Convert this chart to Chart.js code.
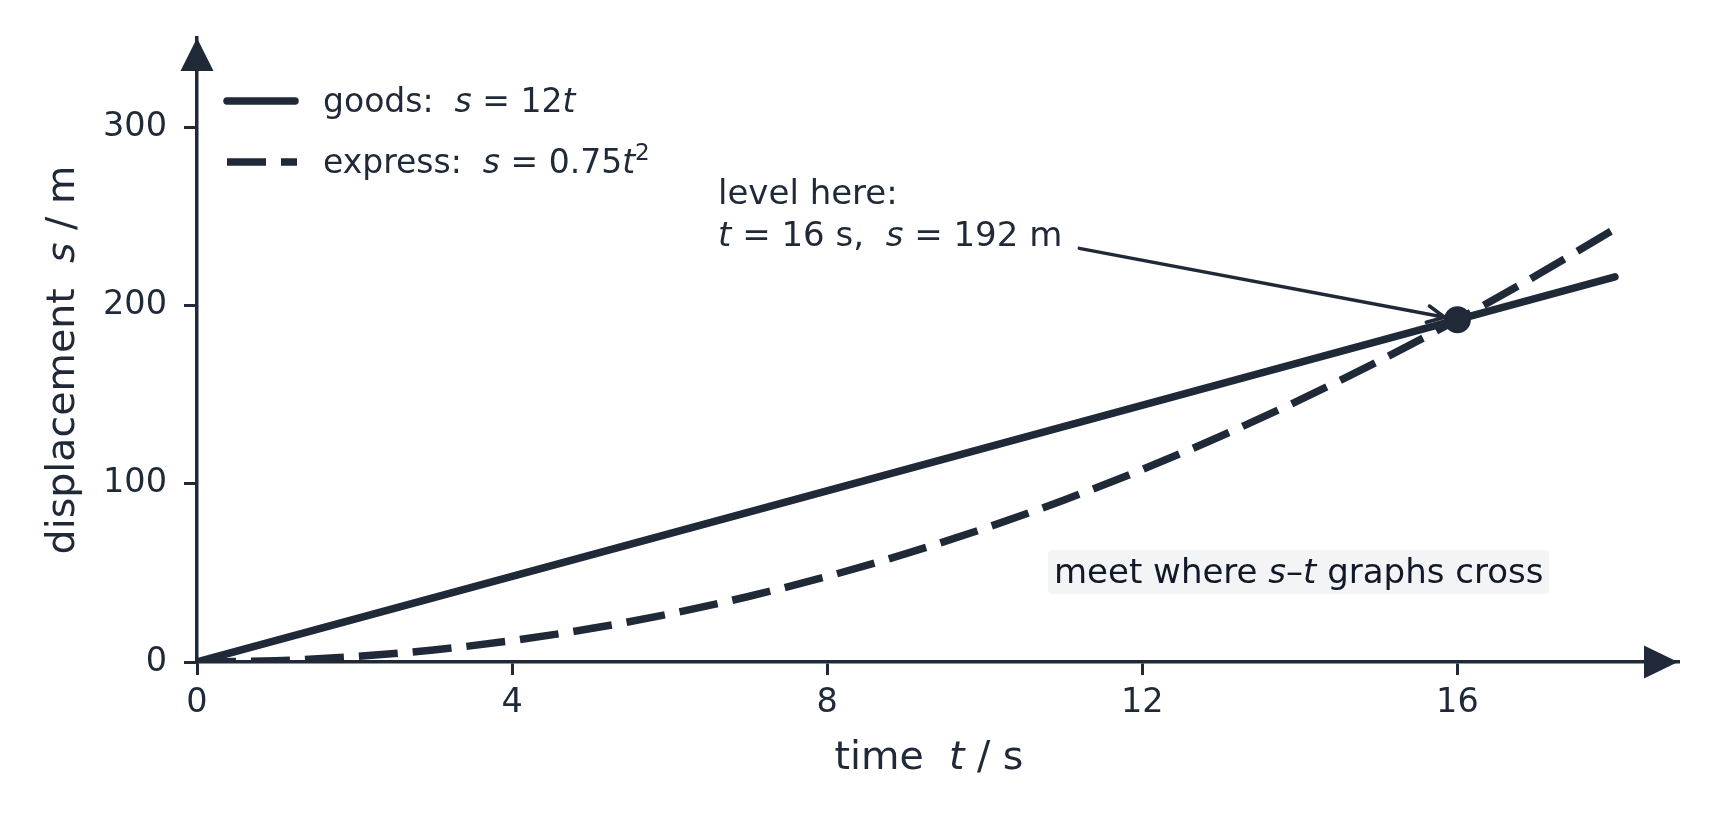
<!DOCTYPE html>
<html>
<head>
<meta charset="utf-8">
<title>s–t graphs: goods and express</title>
<script src="https://cdn.jsdelivr.net/npm/chart.js@4.4.1/dist/chart.umd.min.js"></script>
<style>
  html, body { margin: 0; padding: 0; background: #fff; }
  #wrap { width: 1715px; height: 820px; }
</style>
</head>
<body>
<div id="wrap"><canvas id="chart" width="1715" height="820"></canvas></div>
<script>
const INK = '#1f2937';
const FONT = '"DejaVu Sans", sans-serif';

// goods train: s = 12t
const goodsT = [0, 18];
const goodsS = [0, 216];

// express train: s = 0.75t^2, read every second
const expressT = [0, 1, 2, 3, 4, 5, 6, 7, 8, 9, 10, 11, 12, 13, 14, 15, 16, 17, 18];
const expressS = [0, 0.75, 3, 6.75, 12, 18.75, 27, 36.75, 48, 60.75, 75, 90.75, 108, 126.75, 147, 168.75, 192, 216.75, 243];

// where they are level
const meetT = [16];
const meetS = [192];

const xTicks = [0, 4, 8, 12, 16];
const yTicks = [0, 100, 200, 300];

function pairs(xs, ys) {
  return xs.map((x, i) => ({ x: x, y: ys[i] }));
}

// draws a run of text pieces, some italic, some raised
function richWidth(ctx, parts, size) {
  let w = 0;
  parts.forEach(p => {
    const s = p.sup ? size * 0.7 : size;
    ctx.font = (p.i ? 'italic ' : '') + s + 'px ' + FONT;
    w += ctx.measureText(p.t).width;
  });
  return w;
}

function drawRich(ctx, x, y, parts, size, color) {
  ctx.fillStyle = color || INK;
  ctx.textBaseline = 'alphabetic';
  ctx.textAlign = 'left';
  parts.forEach(p => {
    const s = p.sup ? size * 0.7 : size;
    ctx.font = (p.i ? 'italic ' : '') + s + 'px ' + FONT;
    ctx.fillText(p.t, x, p.sup ? y - size * 0.38 : y);
    x += ctx.measureText(p.t).width;
  });
  return x;
}

const legendParts = [
  [{ t: 'goods:  ' }, { t: 's', i: true }, { t: ' = 12' }, { t: 't', i: true }],
  [{ t: 'express:  ' }, { t: 's', i: true }, { t: ' = 0.75' }, { t: 't', i: true }, { t: '2', sup: true }]
];

const decor = {
  id: 'decor',
  afterDraw(chart) {
    const ctx = chart.ctx;
    const area = chart.chartArea;
    const xs = chart.scales.x;
    const ys = chart.scales.y;
    ctx.save();

    // axis arrow heads
    ctx.fillStyle = INK;
    ctx.beginPath();
    ctx.moveTo(area.right, area.bottom);
    ctx.lineTo(area.right - 34, area.bottom - 16.5);
    ctx.lineTo(area.right - 34, area.bottom + 16.5);
    ctx.closePath();
    ctx.fill();
    ctx.beginPath();
    ctx.moveTo(area.left, area.top);
    ctx.lineTo(area.left - 16.5, area.top + 33);
    ctx.lineTo(area.left + 16.5, area.top + 33);
    ctx.closePath();
    ctx.fill();

    // axis titles
    const xt = [{ t: 'time  ' }, { t: 't', i: true }, { t: ' / s' }];
    const xw = richWidth(ctx, xt, 39.5);
    drawRich(ctx, 929 - xw / 2, 769, xt, 39.5);

    const yt = [{ t: 'displacement  ' }, { t: 's', i: true }, { t: ' / m' }];
    const yw = richWidth(ctx, yt, 39.5);
    ctx.save();
    ctx.translate(74, 360);
    ctx.rotate(-Math.PI / 2);
    drawRich(ctx, -yw / 2, 0, yt, 39.5);
    ctx.restore();

    // legend
    chart.data.datasets.slice(0, 2).forEach((ds, i) => {
      const y = 101 + i * 61;
      ctx.strokeStyle = ds.borderColor;
      ctx.lineWidth = ds.borderWidth;
      ctx.lineCap = ds.borderCapStyle || 'butt';
      ctx.setLineDash(ds.borderDash || []);
      ctx.beginPath();
      ctx.moveTo(227, y);
      ctx.lineTo(i === 0 ? 295 : 297, y);
      ctx.stroke();
      ctx.setLineDash([]);
      drawRich(ctx, 323, y + 11, legendParts[i], 33);
    });

    // annotation for the meeting point
    drawRich(ctx, 718, 204, [{ t: 'level here:' }], 34);
    drawRich(ctx, 718, 246, [{ t: 't', i: true }, { t: ' = 16 s,  ' }, { t: 's', i: true }, { t: ' = 192 m' }], 34);

    const x0 = xs.getPixelForValue(11.2);
    const y0 = ys.getPixelForValue(232);
    const px = xs.getPixelForValue(meetT[0]);
    const py = ys.getPixelForValue(meetS[0]);
    const ang = Math.atan2(py - y0, px - x0);
    const tx = px - Math.cos(ang) * 13;
    const ty = py - Math.sin(ang) * 13;
    ctx.strokeStyle = INK;
    ctx.lineWidth = 3.5;
    ctx.lineCap = 'round';
    ctx.beginPath();
    ctx.moveTo(x0, y0);
    ctx.lineTo(tx, ty);
    ctx.moveTo(tx - Math.cos(ang - 0.45) * 19, ty - Math.sin(ang - 0.45) * 19);
    ctx.lineTo(tx, ty);
    ctx.lineTo(tx - Math.cos(ang + 0.45) * 19, ty - Math.sin(ang + 0.45) * 19);
    ctx.stroke();

    // note box
    const note = [{ t: 'meet where ' }, { t: 's', i: true }, { t: '–' }, { t: 't', i: true }, { t: ' graphs cross' }];
    const nw = richWidth(ctx, note, 34);
    ctx.fillStyle = '#f3f4f6';
    ctx.beginPath();
    ctx.roundRect(1048, 550, nw + 12, 44, 4);
    ctx.fill();
    drawRich(ctx, 1054, 583, note, 34, '#111827');

    ctx.restore();
  }
};

const axisCommon = {
  type: 'linear',
  grid: { drawOnChartArea: false, drawTicks: true, tickLength: 13, color: INK, lineWidth: 3 },
  border: { display: true, color: INK, width: 3.5 }
};

new Chart(document.getElementById('chart'), {
  type: 'line',
  data: {
    datasets: [
      {
        label: 'goods: s = 12t',
        data: pairs(goodsT, goodsS),
        borderColor: INK,
        borderWidth: 7.5,
        borderCapStyle: 'round',
        pointRadius: 0,
        fill: false
      },
      {
        label: 'express: s = 0.75t²',
        data: pairs(expressT, expressS),
        borderColor: INK,
        borderWidth: 7.5,
        borderDash: [39, 15],
        borderCapStyle: 'butt',
        cubicInterpolationMode: 'monotone',
        pointRadius: 0,
        fill: false
      },
      {
        label: 'meet',
        data: pairs(meetT, meetS),
        showLine: false,
        pointRadius: 13.5,
        pointBackgroundColor: INK,
        pointBorderColor: INK,
        pointBorderWidth: 0
      }
    ]
  },
  options: {
    responsive: false,
    animation: false,
    devicePixelRatio: 1,
    layout: { padding: { left: 0, top: 38, right: 37, bottom: 0 } },
    plugins: {
      legend: { display: false },
      tooltip: { enabled: false }
    },
    scales: {
      x: Object.assign({}, axisCommon, {
        min: 0,
        max: 18.8,
        afterBuildTicks: s => { s.ticks = xTicks.map(v => ({ value: v })); },
        afterFit: s => { s.height = 158; },
        ticks: { color: INK, font: { family: FONT, size: 33.5 }, padding: 8, maxRotation: 0 }
      }),
      y: Object.assign({}, axisCommon, {
        min: 0,
        max: 350,
        afterBuildTicks: s => { s.ticks = yTicks.map(v => ({ value: v })); },
        afterFit: s => { s.width = 197; },
        ticks: { color: INK, font: { family: FONT, size: 33.5 }, padding: 17 }
      })
    }
  },
  plugins: [decor]
});
</script>
</body>
</html>
